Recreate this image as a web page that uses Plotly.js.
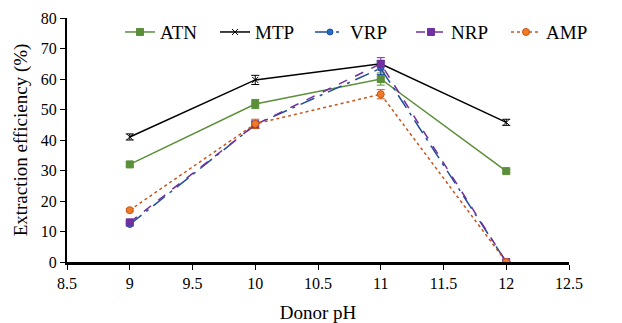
<!DOCTYPE html>
<html><head><meta charset="utf-8">
<script src="https://cdn.plot.ly/plotly-3.0.1.min.js"></script>
<style>html,body{margin:0;padding:0;background:#fff}#c{width:622px;height:323px}</style>
</head><body><div id="c"></div>
<script>
const donorPH = [9, 10, 11, 12];
const atn = [32, 51.8, 60, 29.8];
const atnErr = [0.8, 1.5, 2, 0.5];
const mtp = [41, 59.7, 65, 45.8];
const mtpErr = [1, 1.5, 1, 1];
const vrp = [12.3, 45, 63.5, 0];
const vrpErr = [0.5, 1.2, 2, 0];
const nrp = [13, 45, 65, 0];
const nrpErr = [0.5, 1.2, 2, 0];
const amp = [17, 45.3, 55, 0];
const ampErr = [0.5, 1.5, 1.5, 0];

function tr(name, y, err, color, dash, symbol, size, mcolor, leg){
  return {x: donorPH, y: y, name: name, type:'scatter', mode:'lines+markers', legend: leg||'legend',
    line:{color:color, dash:dash, width:1.5},
    marker:{color:mcolor||color, symbol:symbol, size:size, line:{color:color, width:1}},
    error_y:{type:'data', array:err, visible:true, color:color, thickness:1, width:4}};
}
const data = [
  tr('ATN', atn, atnErr, '#5b8f3a', 'solid', 'square', 7),
  tr('MTP', mtp, mtpErr, '#000000', 'solid', 'x-thin-open', 6),
  tr('VRP', vrp, vrpErr, '#1f4e9a', 'longdashdot', 'circle', 6, '#1f6fc0'),
  tr('NRP', nrp, nrpErr, '#7030a0', 'dash', 'square', 7, null, 'legend2'),
  tr('AMP', amp, ampErr, '#c8561a', 'dot', 'circle', 7, '#f07a28', 'legend2'),
];
const legBase = {orientation:'h', y:1.02, xanchor:'left', yanchor:'top', font:{size:19}, bgcolor:'rgba(0,0,0,0)', tracegroupgap:0, entrywidth:50};
const layout = {
  width:622, height:323, margin:{l:67, r:53, t:18, b:61},
  paper_bgcolor:'#fff', plot_bgcolor:'#fff',
  font:{family:'Liberation Serif, Times New Roman, serif', color:'#000', size:16},
  showlegend:true,
  legend: Object.assign({}, legBase, {x:0.1056}),
  legend2: Object.assign({}, legBase, {x:0.1056 + 3*97/502}),
  xaxis:{range:[8.5,12.5], dtick:0.5, tick0:8.5, showgrid:false, zeroline:false, showline:true, linecolor:'#000', linewidth:2.5,
    ticks:'outside', ticklen:5, tickcolor:'#000', title:{text:'Donor pH', font:{size:19}, standoff:28}},
  yaxis:{range:[0,80], dtick:10, showgrid:false, zeroline:false, showline:true, linecolor:'#000', linewidth:2,
    ticks:'outside', ticklen:5, tickcolor:'#000', title:{text:'Extraction efficiency (%)', font:{size:19}, standoff:8}}
};
Plotly.newPlot('c', data, layout, {displayModeBar:false, staticPlot:true});
</script></body></html>
